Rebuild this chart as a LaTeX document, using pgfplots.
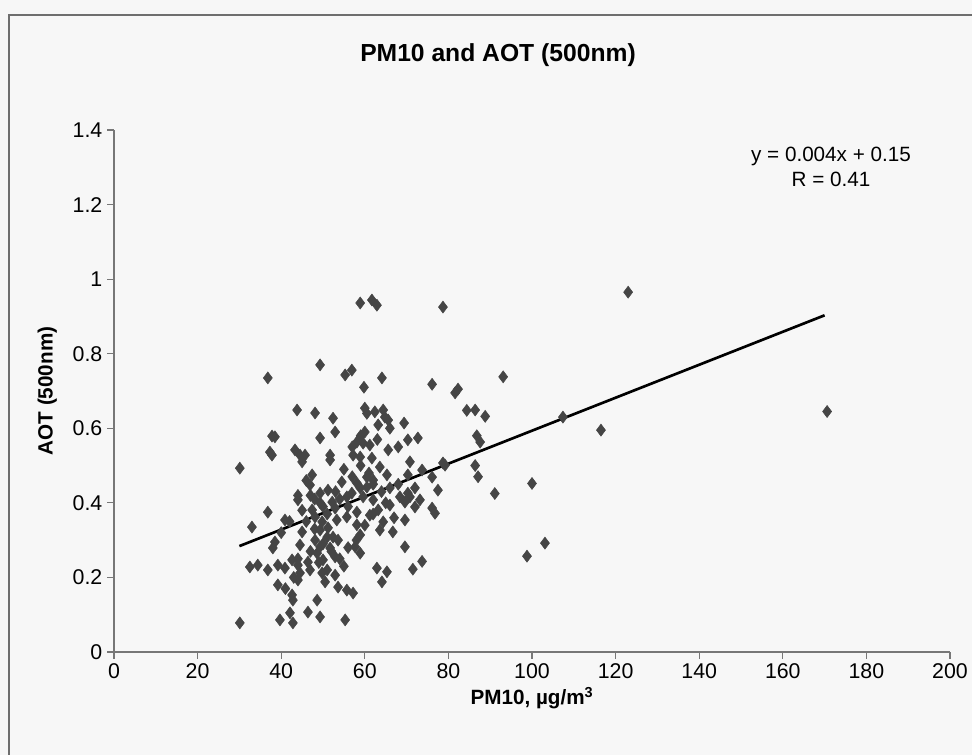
\documentclass[border=0pt]{standalone}
\usepackage{pgfplots}
\usepackage{pgfplotstable}
\pgfplotsset{compat=1.18}
\usepackage{fontspec}
\setmainfont{Liberation Sans}
\definecolor{markgray}{HTML}{454545}
\definecolor{axisgray}{HTML}{777777}
\definecolor{framegray}{HTML}{6E6E6E}

% PM10 (ug/m3) vs AOT at 500 nm
\pgfplotstableread{
x y
123.0 0.965
170.6 0.645
116.5 0.595
107.4 0.630
103.1 0.292
98.8 0.257
100.0 0.452
93.1 0.738
91.1 0.425
88.8 0.632
87.6 0.563
86.8 0.580
86.4 0.649
84.4 0.648
86.4 0.500
87.1 0.470
82.3 0.705
81.6 0.695
78.7 0.925
76.1 0.718
79.2 0.501
78.7 0.507
77.5 0.434
76.1 0.386
76.8 0.372
76.1 0.469
73.7 0.488
73.7 0.243
70.3 0.475
70.3 0.426
73.2 0.408
69.6 0.402
72.0 0.389
72.7 0.574
70.3 0.569
69.4 0.614
70.8 0.510
71.5 0.222
69.6 0.282
69.6 0.354
70.8 0.416
68.4 0.416
66.0 0.394
66.7 0.322
65.6 0.622
65.6 0.542
65.3 0.475
65.3 0.215
64.8 0.630
64.4 0.649
64.4 0.349
64.1 0.735
64.1 0.188
63.6 0.496
63.6 0.327
63.2 0.609
63.2 0.381
62.9 0.930
62.9 0.225
62.4 0.644
62.0 0.461
62.0 0.408
61.7 0.944
61.7 0.520
61.2 0.555
61.2 0.367
60.5 0.640
60.5 0.469
60.5 0.442
60.0 0.654
60.0 0.590
59.8 0.710
59.6 0.560
59.6 0.416
58.9 0.936
58.9 0.523
58.9 0.440
58.9 0.314
58.9 0.265
58.1 0.563
58.1 0.453
58.1 0.375
58.1 0.341
57.7 0.282
57.2 0.528
57.2 0.158
56.9 0.756
56.9 0.426
55.7 0.416
55.7 0.362
55.7 0.166
55.3 0.743
55.3 0.086
54.5 0.456
53.6 0.300
53.6 0.174
53.3 0.354
52.9 0.590
52.9 0.386
52.9 0.255
52.9 0.206
52.4 0.627
52.4 0.308
52.2 0.402
51.7 0.528
51.7 0.515
51.7 0.279
51.2 0.434
51.2 0.333
51.0 0.308
50.5 0.188
50.0 0.247
49.8 0.349
49.8 0.212
49.3 0.770
49.3 0.574
49.3 0.426
49.3 0.400
49.3 0.327
49.3 0.282
49.3 0.094
48.6 0.265
48.6 0.139
48.1 0.641
48.1 0.362
48.1 0.300
47.4 0.475
47.4 0.381
46.9 0.448
46.9 0.220
46.4 0.241
46.4 0.107
45.7 0.528
45.0 0.510
45.0 0.322
44.5 0.528
44.5 0.287
44.5 0.212
44.0 0.408
44.0 0.233
44.0 0.193
43.8 0.649
43.3 0.542
42.8 0.139
42.8 0.078
42.6 0.247
42.6 0.153
42.1 0.105
40.9 0.354
40.9 0.225
39.7 0.086
39.2 0.233
39.2 0.180
38.5 0.577
38.5 0.295
38.0 0.279
37.8 0.579
37.8 0.528
37.3 0.536
36.8 0.735
36.8 0.375
36.8 0.220
34.4 0.233
33.0 0.335
32.5 0.228
30.1 0.493
30.1 0.078
47.0 0.420
48.0 0.410
50.0 0.390
51.0 0.370
53.0 0.430
54.0 0.410
56.0 0.390
57.0 0.470
59.0 0.500
61.0 0.480
62.0 0.450
64.0 0.430
66.0 0.440
68.0 0.450
45.0 0.380
46.0 0.350
48.0 0.330
50.0 0.290
52.0 0.270
54.0 0.250
55.0 0.230
47.0 0.270
49.0 0.240
51.0 0.220
44.0 0.250
43.0 0.200
41.0 0.170
56.0 0.280
58.0 0.300
60.0 0.340
62.0 0.370
65.0 0.400
67.0 0.360
72.0 0.440
40.0 0.320
42.0 0.350
44.0 0.420
46.0 0.460
55.0 0.490
57.0 0.550
59.0 0.580
63.0 0.570
66.0 0.600
68.0 0.550
}\pmdata

\begin{document}
\begin{tikzpicture}[x=0.75pt,y=0.75pt]
\path[use as bounding box, fill=black!3] (0,0) rectangle (972,755);
\draw[framegray, line width=1.1pt] (9,-2) -- (9,740) -- (974,740);

\node[anchor=base, font=\bfseries\fontsize{18.5}{22}\selectfont] at (498,693) {PM10 and AOT (500nm)};
\node[anchor=base, font=\fontsize{15.5}{18}\selectfont] at (831,593) {y = 0.004x + 0.15};
\node[anchor=base, font=\fontsize{15.5}{18}\selectfont] at (831,568) {R = 0.41};

\begin{axis}[
  at={(85.5pt,77.25pt)}, anchor=south west,
  scale only axis,
  width=627pt, height=391.5pt,
  xmin=0, xmax=200, ymin=0, ymax=1.4,
  axis x line*=bottom, axis y line*=left,
  axis line style={axisgray, line width=0.9pt, -},
  tick style={axisgray, line width=0.9pt},
  tick align=outside,
  major tick length=5.2pt,
  xtick={0,20,40,60,80,100,120,140,160,180,200},
  ytick={0,0.2,0.4,0.6,0.8,1,1.2,1.4},
  /pgf/number format/assume math mode=true,
  tick label style={font=\fontsize{16}{18}\selectfont},
  xlabel={PM10, µg/m\textsuperscript{3}},
  ylabel={AOT (500nm)},
  ylabel shift=5pt,
  label style={font=\bfseries\fontsize{15.5}{18}\selectfont},
  clip=false,
]
\addplot[only marks, mark=diamond*, mark size=4.5pt, mark options={fill=markgray, draw=markgray}]
  table[x=x, y=y] {\pmdata};
\addplot[black, line width=2pt] coordinates {(30,0.284) (170,0.903)};
\end{axis}
\end{tikzpicture}
\end{document}
